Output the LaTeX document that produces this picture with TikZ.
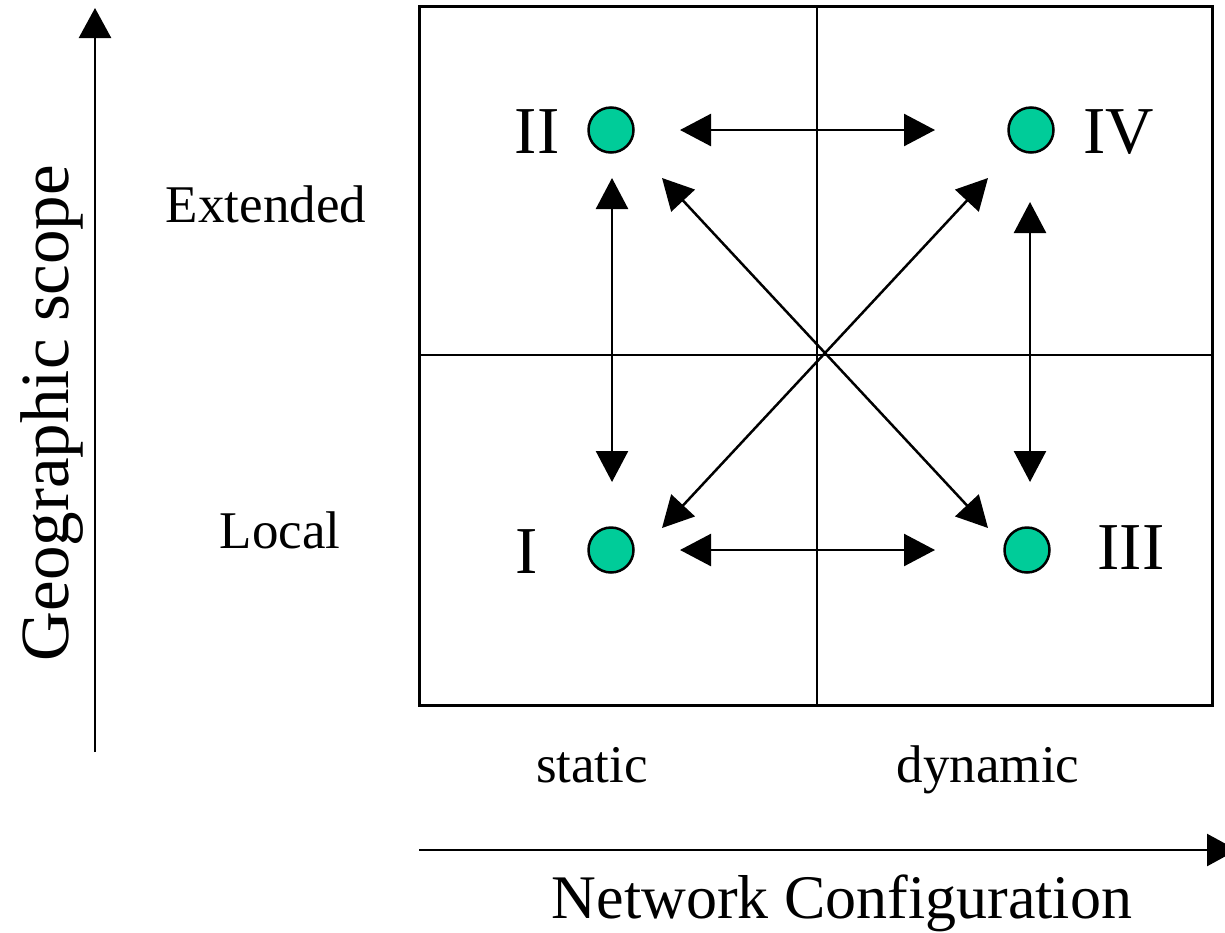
\documentclass[tikz,border=0pt]{standalone}
\usepackage{fontspec}
\setmainfont{Liberation Serif}
\usetikzlibrary{arrows.meta}
\definecolor{seagreen}{RGB}{0,204,153}
\tikzset{%
    state/.style={circle, draw, line width=2.5pt, fill=seagreen,
        minimum size=45pt, inner sep=0pt},
    link/.style={<->, line width=2.5pt, >={Triangle[length=31pt,width=32pt]}},
    axis/.style={->, line width=2.5pt, >={Triangle[length=30pt,width=32pt]}},
    roman/.style={font=\fontsize{67}{67}\selectfont, anchor=base},
    tag/.style={font=\fontsize{53}{53}\selectfont, anchor=base}
}
\begin{document}
\begin{tikzpicture}[x=1pt, y=-1pt]
    \useasboundingbox (0,0) rectangle (1225,932);
    \clip (0,0) rectangle (1225,932);
%-----------------------------------------------
    \draw[line width=3pt] (419,6) rectangle (1212,705);
    \draw[line width=2pt] (817,6) -- (817,705);
    \draw[line width=2pt] (419,355) -- (1212,355);
%-----------------------------------------------
    \coordinate (ybot) at (95,752);
    \coordinate (ytop) at (95,8);
    \coordinate (xleft) at (419,850);
    \coordinate (xright) at (1237,850);
    \draw[axis] (ybot) -- (ytop);
    \draw[axis] (xleft) -- (xright);
%-----------------------------------------------
    \node[state] (s1) at (611,550) {};
    \node[state] (s2) at (611,130) {};
    \node[state] (s3) at (1027,550) {};
    \node[state] (s4) at (1031,130) {};
%-----------------------------------------------
    \coordinate (a2r) at (680,130);
    \coordinate (a4l) at (935,130);
    \coordinate (a1r) at (680,550);
    \coordinate (a3l) at (935,550);
    \coordinate (a2d) at (612,178);
    \coordinate (a1u) at (612,482);
    \coordinate (a4d) at (1030,202);
    \coordinate (a3u) at (1030,482);
    \coordinate (a2x) at (662,178);
    \coordinate (a3x) at (988,528);
    \coordinate (a4x) at (988,178);
    \coordinate (a1x) at (662,528);
    \draw[link] (a2r) -- (a4l);
    \draw[link] (a1r) -- (a3l);
    \draw[link] (a2d) -- (a1u);
    \draw[link] (a4d) -- (a3u);
    \draw[link] (a2x) -- (a3x);
    \draw[link] (a4x) -- (a1x);
%-----------------------------------------------
    \node[roman] (l2) at (537,153) {II};
    \node[roman] (l4) at (1119,153) {IV};
    \node[roman] (l1) at (527,573) {I};
    \node[roman] (l3) at (1131,569) {III};
    \node[tag] (ext) at (266,222) {Extended};
    \node[tag] (loc) at (280,548) {Local};
    \node[tag] (stat) at (592,782) {static};
    \node[tag] (dyn) at (988,782) {dynamic};
    \node[anchor=base, font=\fontsize{62}{62}\selectfont] (xlab) at (842,918) {Network Configuration};
    \node[rotate=90, anchor=base, font=\fontsize{69}{69}\selectfont] (ylab) at (68,413) {Geographic scope};
\end{tikzpicture}
\end{document}
